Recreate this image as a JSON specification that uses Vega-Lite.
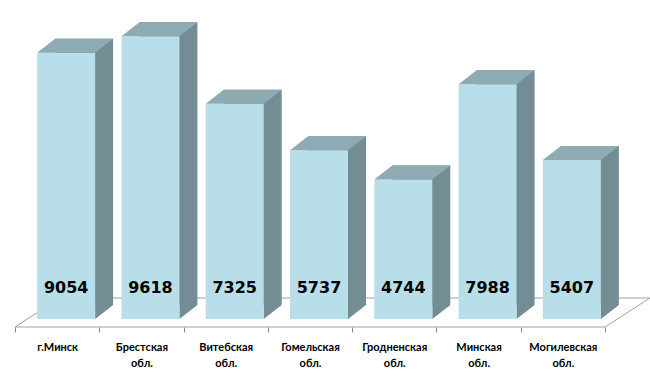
{
  "$schema": "https://vega.github.io/schema/vega-lite/v6.json",
  "autosize": {"type": "none"},
  "padding": {"left": 15, "top": 25, "right": 45, "bottom": 62},
  "width": 590,
  "height": 294,
  "background": "white",
  "config": {"view": {"stroke": null}},
  "data": {
    "values": [
      {"region": "г.Минск", "value": 9054},
      {"region": "Брестская обл.", "value": 9618},
      {"region": "Витебская обл.", "value": 7325},
      {"region": "Гомельская обл.", "value": 5737},
      {"region": "Гродненская обл.", "value": 4744},
      {"region": "Минская обл.", "value": 7988},
      {"region": "Могилевская обл.", "value": 5407}
    ]
  },
  "encoding": {
    "x": {
      "field": "region",
      "type": "nominal",
      "sort": null,
      "scale": {"type": "band", "paddingInner": 0, "paddingOuter": 0, "domain": ["г.Минск", "Брестская обл.", "Витебская обл.", "Гомельская обл.", "Гродненская обл.", "Минская обл.", "Могилевская обл."]},
      "axis": {
        "title": null,
        "orient": "bottom",
        "offset": 8,
        "domain": false,
        "tickBand": "extent",
        "tickSize": 5,
        "tickColor": "#8a8a8a",
        "labelAngle": 0,
        "labelExpr": "split(datum.label, ' ')",
        "labelFont": "Lato",
        "labelFontWeight": "bold",
        "labelFontSize": 11,
        "labelColor": "#000000",
        "labelLineHeight": 16,
        "labelPadding": 9
      }
    }
  },
  "layer": [
    {
      "transform": [{"filter": "datum.region === 'Гомельская обл.'"}],
      "mark": {"type": "point", "filled": true, "opacity": 1, "size": 400, "shape": "M -29.5 0.8 L 29.5 0.8 L 34 -2.1 L -25 -2.1 Z", "fill": "white", "stroke": "#a0a0a0", "strokeWidth": 1},
      "encoding": {"y": {"datum": 0, "type": "quantitative", "scale": {"domain": [0, 10000], "nice": false}, "axis": null}}
    },
    {
      "mark": {"type": "bar", "width": 58, "xOffset": 27, "yOffset": -14, "color": "#728d94"},
      "encoding": {"y": {"field": "value", "type": "quantitative"}}
    },
    {
      "mark": {"type": "point", "filled": true, "opacity": 1, "size": 400, "strokeWidth": 0, "shape": "M 3.8 0 L 3.8 -1.4 L 5.6 -1.4 Z", "color": "#728d94"},
      "encoding": {"y": {"datum": 0, "type": "quantitative"}}
    },
    {
      "mark": {"type": "bar", "width": 58, "xOffset": 9, "color": "#b8dfe9"},
      "encoding": {"y": {"field": "value", "type": "quantitative"}}
    },
    {
      "mark": {"type": "point", "filled": true, "opacity": 1, "size": 400, "strokeWidth": 0, "shape": "M -2 0 L 3.8 0 L 5.6 -1.4 L -0.2 -1.4 Z", "color": "#8eabb3"},
      "encoding": {"y": {"field": "value", "type": "quantitative"}}
    },
    {
      "mark": {"type": "text", "xOffset": 9, "yOffset": -26, "baseline": "alphabetic", "align": "center", "font": "DejaVu Sans", "fontWeight": "bold", "fontSize": 16, "color": "#000000"},
      "encoding": {"y": {"datum": 0, "type": "quantitative"}, "text": {"field": "value", "type": "quantitative", "format": "d"}}
    }
  ]
}
